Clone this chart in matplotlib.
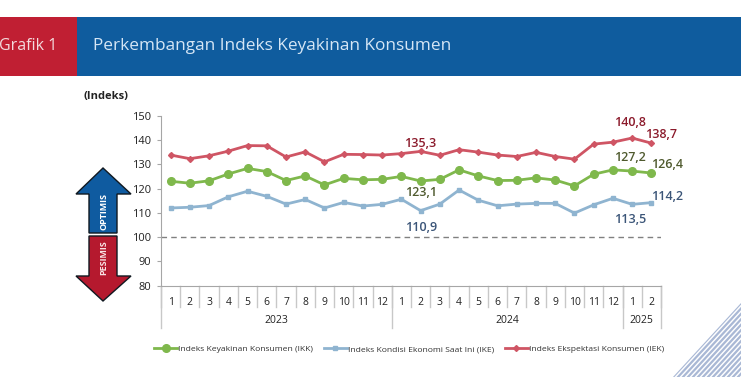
import matplotlib
matplotlib.use('Agg')
import matplotlib.pyplot as plt
from matplotlib.patches import Polygon, Rectangle

plt.rcParams['font.family'] = ['Open Sans', 'DejaVu Sans']

months = [1, 2, 3, 4, 5, 6, 7, 8, 9, 10, 11, 12,
          1, 2, 3, 4, 5, 6, 7, 8, 9, 10, 11, 12,
          1, 2]
years = ['2023', '2024', '2025']
year_lengths = [12, 12, 2]
ikk = [123.0, 122.2, 123.2, 126.0, 128.3, 127.0, 123.3, 125.2, 121.5, 124.2, 123.6, 123.8,
       125.0, 123.1, 123.8, 127.7, 125.2, 123.3, 123.4, 124.4, 123.5, 121.1, 125.9, 127.7,
       127.2, 126.4]
ike = [112.0, 112.3, 113.0, 116.6, 118.9, 116.8, 113.6, 115.5, 112.0, 114.3, 112.8, 113.5,
       115.6, 110.9, 113.6, 119.4, 115.2, 112.9, 113.6, 113.9, 113.9, 109.9, 113.3, 116.0,
       113.5, 114.2]
iek = [133.8, 132.3, 133.5, 135.4, 137.7, 137.6, 133.0, 135.1, 131.0, 134.1, 134.0, 133.8,
       134.4, 135.3, 133.7, 136.0, 135.0, 133.8, 133.2, 134.9, 133.2, 132.1, 138.3, 139.1,
       140.8, 138.7]
yticks = [80, 90, 100, 110, 120, 130, 140, 150]

W, H = 741, 377
fig = plt.figure(figsize=(W / 100, H / 100), dpi=100)

# overlay in pixel coordinates for the banner, arrows and corner stripes
bg = fig.add_axes([0, 0, 1, 1])
bg.set_xlim(0, W)
bg.set_ylim(H, 0)
bg.axis('off')

bg.add_patch(Rectangle((0, 16.5), W, 59, color='#0F5C9E', lw=0))
bg.add_patch(Rectangle((0, 16.5), 77, 59, color='#C01F33', lw=0))
bg.text(-1, 46, 'Grafik 1', color='#F3DADD', fontsize=11.5, va='center', ha='left')
bg.text(93, 45.5, 'Perkembangan Indeks Keyakinan Konsumen', color='#D5E6F5', fontsize=12.4,
        va='center', ha='left')
bg.text(84, 96, '(Indeks)', color='#222222', fontsize=8, fontweight='bold', va='center')

bg.add_patch(Polygon([(103, 168), (131, 194), (117, 194), (117, 233), (89, 233), (89, 194), (76, 194)],
                     facecolor='#0F5BA0', edgecolor='#101820', lw=1))
bg.add_patch(Polygon([(89, 236), (117, 236), (117, 276), (131, 276), (103, 301), (76, 276), (89, 276)],
                     facecolor='#B5192E', edgecolor='#101820', lw=1))
bg.text(104, 212, 'OPTIMIS', color='white', fontsize=6.5, fontweight='bold', rotation=90,
        ha='center', va='center')
bg.text(104, 258, 'PESIMIS', color='#F9E3E5', fontsize=6.5, fontweight='bold', rotation=90,
        ha='center', va='center')

clip = Polygon([(673, 377), (741, 303), (741, 377)], transform=bg.transData)
for offset in range(0, 100, 5):
    stripe, = bg.plot([673 + offset, 673 + offset + 80], [377, 377 - 87], color='#A9B8D5', lw=1.6)
    stripe.set_clip_path(clip)

# chart
ax = fig.add_axes([161 / W, 1 - 285.7 / H, 500 / W, 170 / H])
ax.patch.set_alpha(0)
x = list(range(len(months)))
ax.plot(x, ikk, color='#7FB84C', lw=2, marker='o', ms=5.5, label='Indeks Keyakinan Konsumen (IKK)')
ax.plot(x, ike, color='#8FB4D0', lw=2, marker='s', ms=3.5, label='Indeks Kondisi Ekonomi Saat Ini (IKE)')
ax.plot(x, iek, color='#CF5564', lw=2, marker='D', ms=3, label='Indeks Ekspektasi Konsumen (IEK)')
ax.axhline(100, color='#808080', lw=1, ls=(0, (4, 3)))

ax.set_xlim(-0.5, len(months) - 0.5)
ax.set_ylim(80, 150)
ax.set_yticks(yticks)
ax.set_xticks(x)
ax.set_xticklabels(months)
ax.tick_params(axis='y', labelsize=8, length=3, color='#A6A6A6', labelcolor='#222222', pad=4)
ax.tick_params(axis='x', labelsize=7.5, length=0, labelcolor='#222222', pad=8)
for side in ['top', 'right']:
    ax.spines[side].set_visible(False)
for side in ['left', 'bottom']:
    ax.spines[side].set_color('#A6A6A6')

# two level category axis
trans = ax.get_xaxis_transform()
for i in range(len(months) + 1):
    ax.plot([i - 0.5, i - 0.5], [0, -21 / 170], color='#C8C8C8', lw=1, transform=trans, clip_on=False)
start = 0
for year, length in zip(years, year_lengths):
    ax.plot([start - 0.5, start - 0.5], [0, -42 / 170], color='#C8C8C8', lw=1, transform=trans, clip_on=False)
    ax.text(start - 0.5 + length / 2, -35 / 170, year, fontsize=7.5, color='#222222', transform=trans,
            ha='center', va='center')
    start += length
ax.plot([start - 0.5, start - 0.5], [0, -42 / 170], color='#C8C8C8', lw=1, transform=trans, clip_on=False)

# value labels
red, olive, slate = '#8B1A2B', '#4F5A2E', '#3B5578'
labels = [(13, iek, 13, 3.4, red), (24, iek, 23.9, 6.4, red), (25, iek, 25.5, 3.4, red),
          (13, ikk, 13, -4.8, olive), (24, ikk, 23.9, 5.6, olive), (25, ikk, 25.8, 3.4, olive),
          (13, ike, 13, -6.8, slate), (24, ike, 23.9, -6.2, slate), (25, ike, 25.8, 2.6, slate)]
for i, series, tx, dy, color in labels:
    ax.text(tx, series[i] + dy, f'{series[i]:.1f}'.replace('.', ','), color=color, fontsize=9,
            fontweight='semibold', ha='center', va='center')

ax.legend(loc='center', bbox_to_anchor=(0.496, -63.5 / 170), ncol=3, frameon=False,
          fontsize=6.1, handlelength=2.7, handletextpad=0.1, columnspacing=1.3, labelcolor='#333333')

fig.savefig('out.png', dpi=100)
